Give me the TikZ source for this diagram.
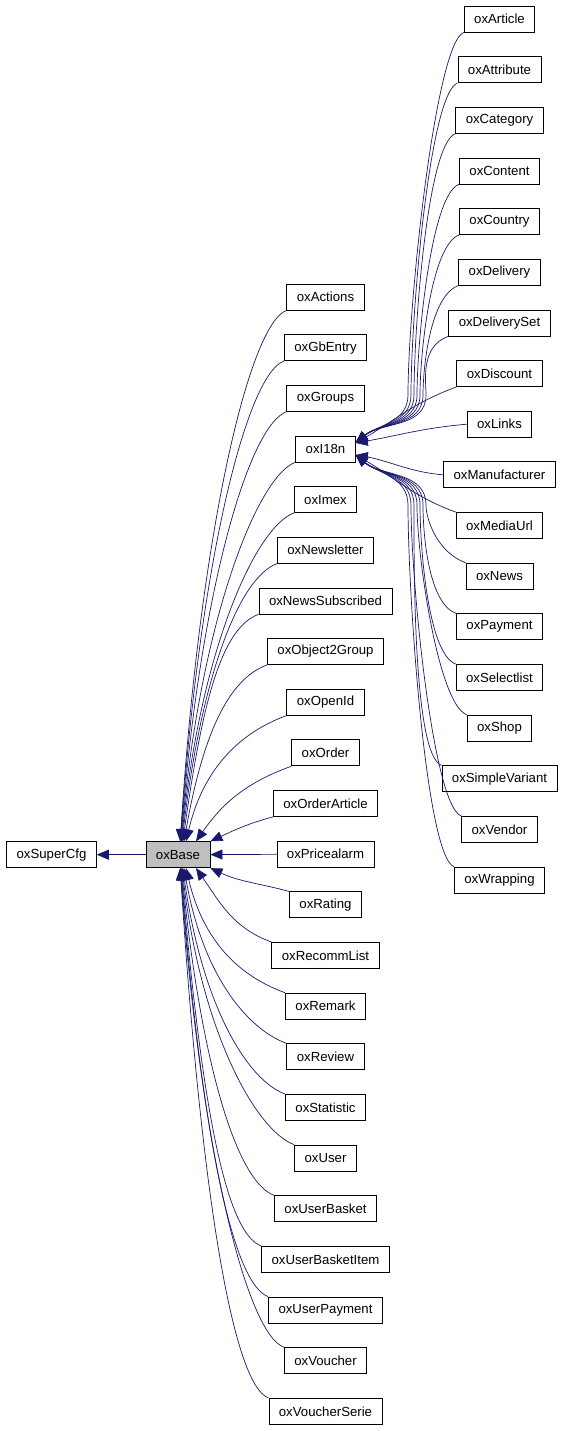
\documentclass[tikz,border=0pt]{standalone}
\usepackage{fontspec}
\setmainfont{Liberation Sans}
\usepackage{tikz}
\usetikzlibrary{arrows.meta}
\definecolor{kantenblau}{RGB}{25,25,112}
\tikzset{
  klasse/.style={draw=black,line width=0.8pt,minimum height=26pt,inner xsep=10pt,inner ysep=0pt,font=\fontsize{13.2}{15}\selectfont},
  basis/.style={klasse,fill=black!25},
  kante/.style={draw=kantenblau,line width=0.7pt,-{Triangle[length=12pt,width=10pt]}}
}

\begin{document}
\begin{tikzpicture}[x=1pt,y=1pt]
\useasboundingbox (0,0) rectangle (563,-1431);
%Zeilenabstand der Knoten
  \pgfmathsetmacro{\zeile}{50.65}
%linke Spalte
\node[klasse] (oxSuperCfg) at (51.5,-854.7) {oxSuperCfg};
\node[basis] (oxBase) at (178,-854.7) {oxBase};
%mittlere Spalte
\foreach \name [count=\k from 0] in {oxActions,oxGbEntry,oxGroups,oxI18n,oxImex,oxNewsletter,oxNewsSubscribed,oxObject2Group,oxOpenId,oxOrder,oxOrderArticle,oxPricealarm,oxRating,oxRecommList,oxRemark,oxReview,oxStatistic,oxUser,oxUserBasket,oxUserBasketItem,oxUserPayment,oxVoucher,oxVoucherSerie}{
\node[klasse] (\name) at (325.5,{-297-\k*\zeile}) {\name};
}
%rechte Spalte
\foreach \name [count=\j from 0] in {oxArticle,oxAttribute,oxCategory,oxContent,oxCountry,oxDelivery,oxDeliverySet,oxDiscount,oxLinks,oxManufacturer,oxMediaUrl,oxNews,oxPayment,oxSelectlist,oxShop,oxSimpleVariant,oxVendor,oxWrapping}{
\node[klasse] (\name) at (499.5,{-19-\j*\zeile}) {\name};
}
%Vererbung nach oxSuperCfg
\draw[kante] (oxBase.west) -- (oxSuperCfg.east);
%Kanten nach oxBase, von oben
\foreach \name [count=\i from 0] in {oxActions,oxGbEntry,oxGroups,oxI18n,oxImex,oxNewsletter,oxNewsSubscribed,oxObject2Group,oxOpenId}{
  \pgfmathsetmacro{\a}{11-\i}
  \pgfmathsetmacro{\dx}{24/\a}
  \pgfmathsetmacro{\ein}{90-40/\a}
  \pgfmathsetmacro{\weg}{0.55*\a*\zeile}
\draw[kante] (\name.south west) to[out=200,in=\ein,out distance=40pt,in distance=\weg pt] ([xshift=\dx pt]oxBase.north);
}
\draw[kante] (oxOrder.south west) to[out=200,in=55] ([xshift=18pt]oxBase.north);
\draw[kante] (oxOrderArticle.south west) to[out=195,in=25] (oxBase.north east);
\draw[kante] (oxPricealarm) -- (oxBase);
\draw[kante] (oxRating.north west) to[out=165,in=-25] (oxBase.south east);
\draw[kante] (oxRecommList.north west) to[out=160,in=-55] ([xshift=18pt]oxBase.south);
%Kanten nach oxBase, von unten
\foreach \name [count=\i from 3] in {oxRemark,oxReview,oxStatistic,oxUser,oxUserBasket,oxUserBasketItem,oxUserPayment,oxVoucher,oxVoucherSerie}{
  \pgfmathsetmacro{\dx}{24/\i}
  \pgfmathsetmacro{\ein}{-90+40/\i}
  \pgfmathsetmacro{\weg}{0.55*\i*\zeile}
\draw[kante] (\name.north west) to[out=160,in=\ein,out distance=40pt,in distance=\weg pt] ([xshift=\dx pt]oxBase.south);
}
%Kanten nach oxI18n, von oben
\foreach \name/\xs [count=\j from 0] in {oxArticle/408,oxAttribute/411,oxCategory/414,oxContent/417,oxCountry/420,oxDelivery/423,oxDeliverySet/426}{
  \pgfmathsetmacro{\weg}{0.25*(395-32-\j*\zeile)}
\draw[kante] (\name.south west) to[out=200,in=90,out distance=30pt,in distance=\weg pt] (\xs,-395) to[out=-90,in=40] ([yshift=6pt]oxI18n.east);
}
\draw[kante] (oxDiscount.south west) to[out=200,in=30] ([yshift=6pt]oxI18n.east);
\draw[kante] (oxLinks.west) to[out=185,in=10] ([yshift=6pt]oxI18n.east);
\draw[kante] (oxManufacturer.west) to[out=175,in=-10] ([yshift=-6pt]oxI18n.east);
\draw[kante] (oxMediaUrl.north west) to[out=160,in=-30] ([yshift=-6pt]oxI18n.east);
%Kanten nach oxI18n, von unten
\foreach \name/\xs [count=\j from 11] in {oxNews/426,oxPayment/423,oxSelectlist/420,oxShop/417,oxSimpleVariant/414,oxVendor/411,oxWrapping/408}{
  \pgfmathsetmacro{\weg}{0.25*(19+\j*\zeile-13-505)}
\draw[kante] (\name.north west) to[out=160,in=-90,out distance=30pt,in distance=\weg pt] (\xs,-505) to[out=90,in=-40] ([yshift=-6pt]oxI18n.east);
}
\end{tikzpicture}
\end{document}
